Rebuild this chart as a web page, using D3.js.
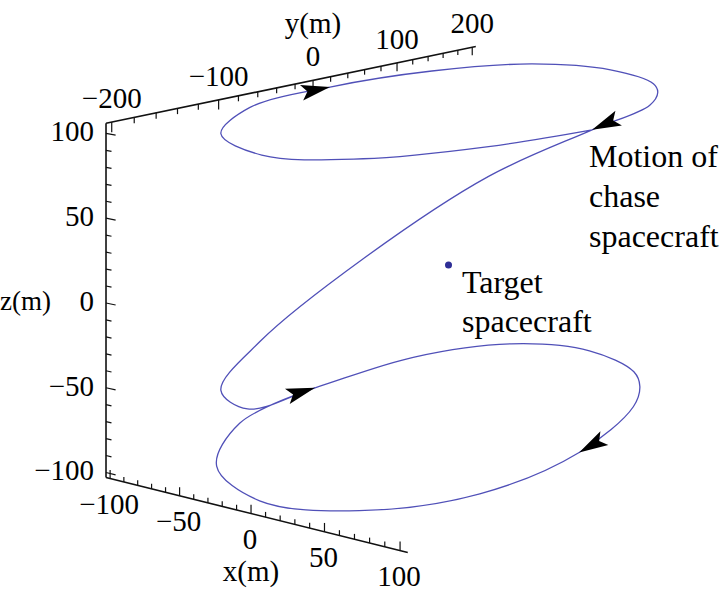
<!DOCTYPE html>
<html>
<head>
<meta charset="utf-8">
<script src="https://cdn.jsdelivr.net/npm/d3@7"></script>
<style>
  body { margin: 0; background: #fff; }
  svg { display: block; }
</style>
</head>
<body>
<script>
// relative position of the chase spacecraft, metres: [x, y, z]
// first fly-around loop (upper)
const topLoop = [
  [100, 15, 100], [87, -90, 103], [50, -167, 102], [0, -195, 101],
  [-50, -167, 102], [-87, -90, 102], [-100, 15, 100], [-87, 120, 100],
  [-50, 197, 101], [0, 225, 100], [50, 197, 100], [71, 163, 101],
  [87, 120, 100], [100, 15, 100]
];
// transfer down to the lower loop
const transfer = [
  [87, -90, 85], [50, -167, 44], [0, -196, -6],
  [-50, -167, -51], [-87, -92, -88], [-100, -2, -99]
];
// second fly-around loop (lower)
const bottomLoop = [
  [-87, 96, -99], [-50, 167, -99], [0, 193, -101], [50, 167, -101],
  [71, 136, -100], [87, 96, -101], [100, -2, -103], [87, -100, -104],
  [50, -171, -101], [0, -197, -98], [-50, -171, -95], [-87, -100, -95],
  [-100, -2, -99]
];
const targetPos = [0, 0, 0];
// where the arrowheads sit: [series, sample index]
const arrowMarks = [["top", 6], ["top", 13], ["transfer", 5], ["bottom", 6]];

const xTicks = [-100, -50, 0, 50, 100];
const yTicks = [-200, -100, 0, 100, 200];
const zTicks = [-100, -50, 0, 50, 100];
const xBox = [-103, 105];
const yBox = [-205, 205];
const zBox = [-103, 106];

const width = 722, height = 591;
const font = "'Liberation Serif', 'Times New Roman', serif";

const svg = d3.select("body").append("svg")
  .attr("width", width)
  .attr("height", height)
  .style("font-family", font);

// data -> box units
const sx = d3.scaleLinear().domain([-100, 100]).range([-1, 1]);
const sy = d3.scaleLinear().domain([-100, 100]).range([-1, 1]);
const sz = d3.scaleLinear().domain([-100, 100]).range([-1, 1]);

// perspective view of the box (screen vectors per box unit + depth terms)
const view = {
  o: [445.5, 264], ex: [120.9, 18.9], ey: [109.9, -14.1], ez: [0, -153],
  wx: -0.0246, wy: 0.0599, wz: 0
};

function project(p) {
  const X = sx(p[0]), Y = sy(p[1]), Z = sz(p[2]);
  const w = 1 + view.wx * X + view.wy * Y + view.wz * Z;
  return [
    (view.o[0] + X * view.ex[0] + Y * view.ey[0] + Z * view.ez[0]) / w,
    (view.o[1] + X * view.ex[1] + Y * view.ey[1] + Z * view.ez[1]) / w
  ];
}

const axisG = svg.append("g").attr("stroke", "#111").attr("fill", "none");

function seg(a, b, sw) {
  const p = project(a), q = project(b);
  axisG.append("line")
    .attr("x1", p[0]).attr("y1", p[1])
    .attr("x2", q[0]).attr("y2", q[1])
    .attr("stroke-width", sw);
}

// --- axes (box edges) ---
seg([xBox[0], yBox[0], zBox[0]], [xBox[0], yBox[0], zBox[1]], 1.6);   // z
seg([xBox[0], yBox[0], zBox[1]], [xBox[0], yBox[1], zBox[1]], 1.6);   // y
seg([xBox[0], yBox[0], zBox[0]], [xBox[1], yBox[0], zBox[0]], 1.6);   // x

// ticks
d3.range(-100, 101, 10).forEach(v => {
  const major = xTicks.includes(v);
  seg([v, yBox[0], zBox[0]], [v, yBox[0], zBox[0] + (major ? 5 : 3)], 1.2);
});
d3.range(-200, 201, 20).forEach(v => {
  const major = yTicks.includes(v);
  seg([xBox[0], v, zBox[1]], [xBox[0], v, zBox[1] - (major ? 6 : 3.5)], 1.2);
});
d3.range(-100, 101, 10).forEach(v => {
  const major = zTicks.includes(v);
  seg([xBox[0], yBox[0], v], [xBox[0] + (major ? 7 : 4), yBox[0], v], 1.2);
});

const fmt = v => (v < 0 ? "\u2212" + Math.abs(v) : String(v));
const labelG = svg.append("g").attr("fill", "#000").style("font-size", "29px");

xTicks.forEach(v => {
  const p = project([v, yBox[0], zBox[0]]);
  labelG.append("text").attr("x", p[0] - 1).attr("y", p[1] + 35)
    .attr("text-anchor", "middle").text(fmt(v));
});
yTicks.forEach(v => {
  const p = project([xBox[0], v, zBox[1]]);
  labelG.append("text").attr("x", p[0]).attr("y", p[1] - 14)
    .attr("text-anchor", "middle").text(fmt(v));
});
zTicks.forEach(v => {
  const p = project([xBox[0], yBox[0], v]);
  labelG.append("text").attr("x", p[0] - 12).attr("y", p[1] + 8)
    .attr("text-anchor", "end").text(fmt(v));
});

// axis titles
const px0 = project([0, yBox[0], zBox[0]]);
labelG.append("text").attr("x", px0[0]).attr("y", px0[1] + 67)
  .attr("text-anchor", "middle").text("x(m)");
const py0 = project([xBox[0], 0, zBox[1]]);
labelG.append("text").attr("x", py0[0]).attr("y", py0[1] - 47)
  .attr("text-anchor", "middle").text("y(m)");
const pz0 = project([xBox[0], yBox[0], 0]);
labelG.append("text").attr("x", pz0[0] - 106).attr("y", pz0[1] + 7)
  .attr("text-anchor", "start").style("font-size", "27px").text("z(m)");

// --- trajectory ---
const fullPath = topLoop.concat(transfer, bottomLoop);
const pts = fullPath.map(project);

const line = d3.line().curve(d3.curveCatmullRom.alpha(0.5));
svg.append("path")
  .attr("d", line(pts))
  .attr("fill", "none")
  .attr("stroke", "#5050b8")
  .attr("stroke-width", 1.3);

// arrowheads
function offsetOf(name) {
  if (name === "top") return 0;
  if (name === "transfer") return topLoop.length;
  return topLoop.length + transfer.length;
}
arrowMarks.forEach(([name, idx]) => {
  const i = offsetOf(name) + idx;
  const tip = pts[i];
  const prev = pts[Math.max(i - 1, 0)];
  const next = pts[Math.min(i + 1, pts.length - 1)];
  let dx = next[0] - prev[0], dy = next[1] - prev[1];
  const len = Math.hypot(dx, dy);
  dx /= len; dy /= len;
  const nx = -dy, ny = dx;
  const L = 29, W = 8, notch = 6;
  const shape = [
    tip,
    [tip[0] - L * dx + W * nx, tip[1] - L * dy + W * ny],
    [tip[0] - (L - notch) * dx, tip[1] - (L - notch) * dy],
    [tip[0] - L * dx - W * nx, tip[1] - L * dy - W * ny]
  ];
  svg.append("path")
    .attr("d", "M" + shape.map(p => p.join(",")).join("L") + "Z")
    .attr("fill", "#000");
});

// target spacecraft
const pt = project(targetPos);
svg.append("circle")
  .attr("cx", pt[0] + 3).attr("cy", pt[1] + 1)
  .attr("r", 3.5)
  .attr("fill", "#2e2e96");

// annotations
const noteG = svg.append("g").attr("fill", "#000").style("font-size", "32px");
[["Motion of", 167], ["chase", 207], ["spacecraft", 247]].forEach(([t, y]) => {
  noteG.append("text").attr("x", 589).attr("y", y).text(t);
});
[["Target", 293], ["spacecraft", 332]].forEach(([t, y]) => {
  noteG.append("text").attr("x", 462).attr("y", y).text(t);
});
</script>
</body>
</html>
